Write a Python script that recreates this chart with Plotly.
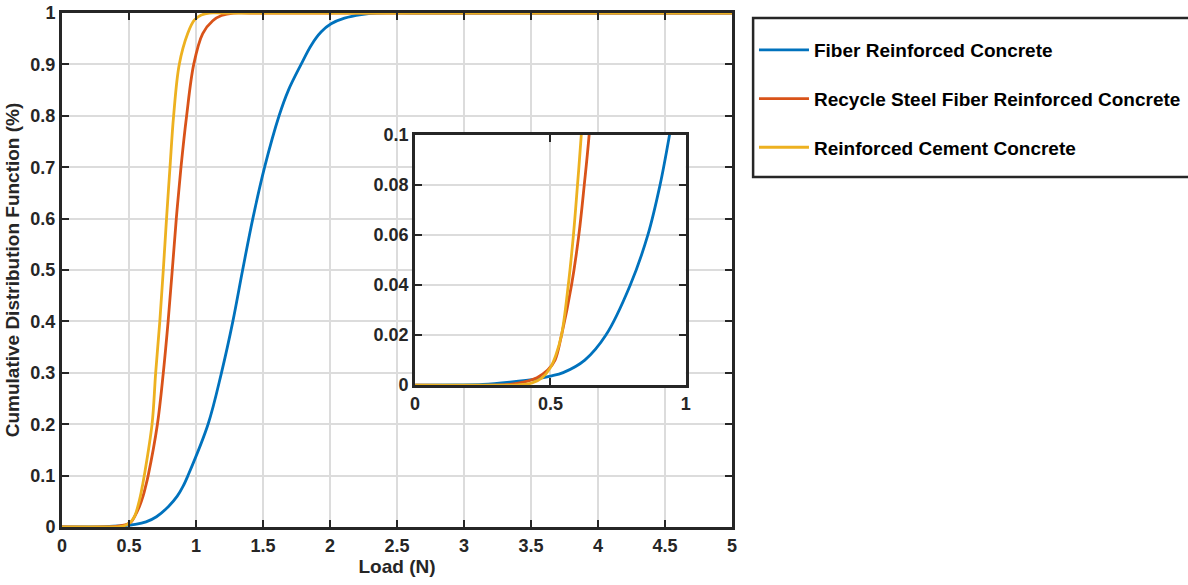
import plotly.graph_objects as go

# ---- data ----
fiber_x = [0, 0.15, 0.25, 0.35, 0.45, 0.5, 0.547, 0.627, 0.705, 0.795, 0.86, 0.905, 0.94,
           1.09, 1.19, 1.275, 1.348, 1.424, 1.512, 1.62, 1.69, 1.784, 1.859, 1.933, 2.008,
           2.108, 2.233, 2.35, 2.6, 5]
fiber_y = [0, 0.0001, 0.0003, 0.0012, 0.0025, 0.0036, 0.005, 0.01, 0.02, 0.04, 0.06, 0.08, 0.1,
           0.2, 0.3, 0.4, 0.5, 0.6, 0.7, 0.8, 0.85, 0.9, 0.937, 0.963, 0.979,
           0.99, 0.997, 1.0, 1.0, 1.0]

rsfrc_x = [0, 0.3, 0.35, 0.4, 0.45, 0.49, 0.517, 0.541, 0.578, 0.605, 0.625, 0.643,
           0.712, 0.756, 0.792, 0.823, 0.853, 0.888, 0.93, 0.983, 1.05, 1.125, 1.19, 1.28, 1.4, 5]
rsfrc_y = [0, 0, 0.0003, 0.0012, 0.003, 0.006, 0.01, 0.02, 0.04, 0.06, 0.08, 0.1,
           0.2, 0.3, 0.4, 0.5, 0.6, 0.7, 0.8, 0.9, 0.96, 0.985, 0.995, 1.0, 1.0, 1.0]

rcc_x = [0, 0.3, 0.38, 0.43, 0.47, 0.5, 0.52, 0.541, 0.566, 0.585, 0.6, 0.614,
         0.672, 0.699, 0.73, 0.756, 0.78, 0.806, 0.833, 0.875, 0.938, 0.987, 1.04, 1.1, 1.2, 5]
rcc_y = [0, 0, 0.0001, 0.0008, 0.003, 0.007, 0.012, 0.02, 0.04, 0.06, 0.08, 0.1,
         0.2, 0.3, 0.4, 0.5, 0.6, 0.7, 0.8, 0.9, 0.96, 0.986, 0.996, 1.0, 1.0, 1.0]

series_names = ["Fiber Reinforced Concrete",
                "Recycle Steel Fiber Reinforced Concrete",
                "Reinforced Cement Concrete"]
series_colors = ["#0072BD", "#D95319", "#EDB120"]

x_ticks = [0, 0.5, 1, 1.5, 2, 2.5, 3, 3.5, 4, 4.5, 5]
y_ticks = [0, 0.1, 0.2, 0.3, 0.4, 0.5, 0.6, 0.7, 0.8, 0.9, 1]
inset_x_ticks = [0, 0.5, 1]
inset_y_ticks = [0, 0.02, 0.04, 0.06, 0.08, 0.1]

FONT = "Arial, Liberation Sans, sans-serif"
TXT = "#262626"
GRID = "#dcdcdc"

fig = go.Figure()
data = [(fiber_x, fiber_y), (rsfrc_x, rsfrc_y), (rcc_x, rcc_y)]
for i, ((xs, ys), name, col) in enumerate(zip(data, series_names, series_colors)):
    fig.add_trace(go.Scatter(x=xs, y=ys, mode="lines", name=name, legendgroup=f"g{i}",
                             line=dict(color=col, width=2.8, shape="spline", smoothing=1.0),
                             xaxis="x", yaxis="y"))
for i, ((xs, ys), name, col) in enumerate(zip(data, series_names, series_colors)):
    fig.add_trace(go.Scatter(x=xs, y=ys, mode="lines", name=name, showlegend=False,
                             legendgroup=f"g{i}",
                             line=dict(color=col, width=2.8, shape="spline", smoothing=1.0),
                             xaxis="x2", yaxis="y2"))

axis_common = dict(showline=True, linecolor=TXT, linewidth=3, mirror="ticks",
                   ticks="inside", ticklen=7, tickwidth=2, tickcolor=TXT,
                   showgrid=True, gridcolor=GRID, gridwidth=2, zeroline=False,
                   automargin=False,
                   tickfont=dict(family=FONT, size=18, color=TXT, weight="bold"))

title_font = dict(family=FONT, size=19, color=TXT, weight="bold")

fig.update_layout(
    width=1188, height=585,
    margin=dict(l=62, r=456, t=13, b=58, autoexpand=False),
    paper_bgcolor="white", plot_bgcolor="white",
    showlegend=True,
    xaxis=dict(domain=[0, 1], range=[0, 5], tickvals=x_ticks, anchor="y",
               title=dict(text="Load (N)", standoff=4, font=title_font),
               **axis_common),
    yaxis=dict(domain=[0, 1], range=[0, 1], tickvals=y_ticks, anchor="x",
               title=dict(text="Cumulative Distribution Function (%)", standoff=6, font=title_font),
               **axis_common),
    xaxis2=dict(domain=[0.527, 0.931], range=[0, 1], tickvals=inset_x_ticks, anchor="y2",
                **axis_common),
    yaxis2=dict(domain=[0.276, 0.763], range=[0, 0.1], tickvals=inset_y_ticks, anchor="x2",
                **axis_common),
    legend=dict(x=1.0328, y=0.965, xanchor="left", yanchor="top",
                bgcolor="rgba(0,0,0,0)", borderwidth=0,
                tracegroupgap=21, itemwidth=50,
                font=dict(family=FONT, size=19, color="#000000", weight="bold")),
    shapes=[
        dict(type="rect", xref="x2 domain", yref="y2 domain", x0=0, x1=1, y0=0, y1=1,
             fillcolor="white", line=dict(width=0), layer="below"),
        dict(type="rect", xref="paper", yref="paper", x0=1.0315, x1=1.70, y0=0.681,
             y1=0.9905, fillcolor="white", line=dict(color=TXT, width=2.5), layer="above"),
    ],
)

fig.write_html("out.html")
